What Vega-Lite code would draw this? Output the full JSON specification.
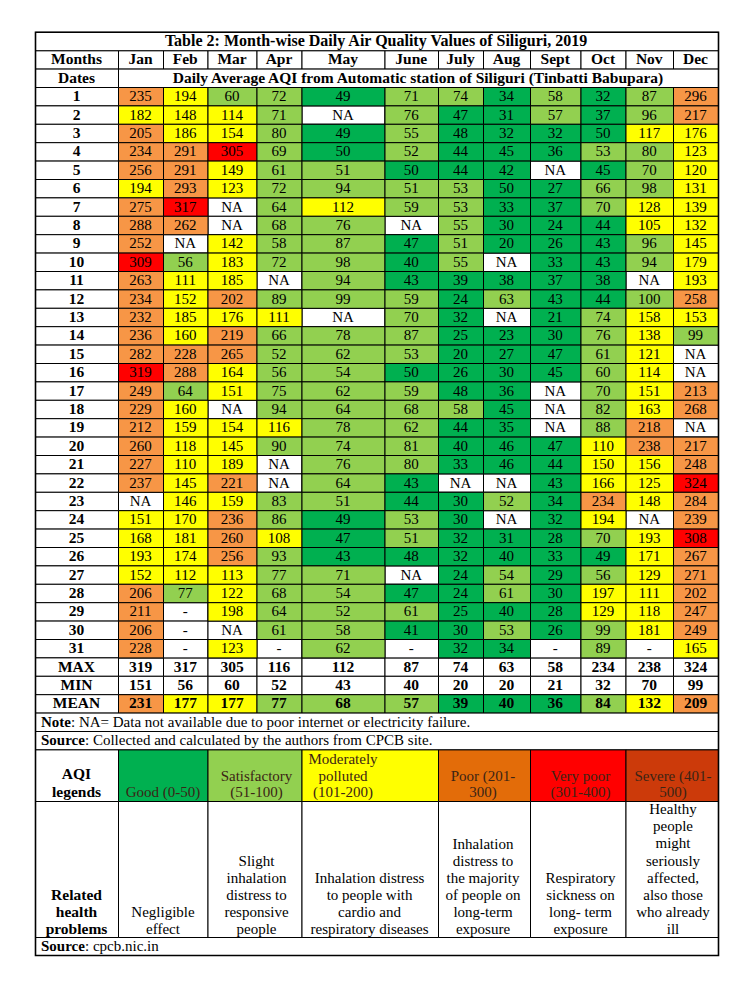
{
"$schema":"https://vega.github.io/schema/vega-lite/v6.json",
"width":750,"height":985,"padding":0,"autosize":{"type":"none"},
"background":"white",
"config":{"view":{"stroke":null}},
"datasets":{
"body":[
{"d":1,"m":1,"v":235},{"d":1,"m":2,"v":194},{"d":1,"m":3,"v":60},{"d":1,"m":4,"v":72},{"d":1,"m":5,"v":49},{"d":1,"m":6,"v":71},{"d":1,"m":7,"v":74},{"d":1,"m":8,"v":34},{"d":1,"m":9,"v":58},{"d":1,"m":10,"v":32},{"d":1,"m":11,"v":87},{"d":1,"m":12,"v":296},
{"d":2,"m":1,"v":182},{"d":2,"m":2,"v":148},{"d":2,"m":3,"v":114},{"d":2,"m":4,"v":71},{"d":2,"m":5,"v":"NA"},{"d":2,"m":6,"v":76},{"d":2,"m":7,"v":47},{"d":2,"m":8,"v":31},{"d":2,"m":9,"v":57},{"d":2,"m":10,"v":37},{"d":2,"m":11,"v":96},{"d":2,"m":12,"v":217},
{"d":3,"m":1,"v":205},{"d":3,"m":2,"v":186},{"d":3,"m":3,"v":154},{"d":3,"m":4,"v":80},{"d":3,"m":5,"v":49},{"d":3,"m":6,"v":55},{"d":3,"m":7,"v":48},{"d":3,"m":8,"v":32},{"d":3,"m":9,"v":32},{"d":3,"m":10,"v":50},{"d":3,"m":11,"v":117},{"d":3,"m":12,"v":176},
{"d":4,"m":1,"v":234},{"d":4,"m":2,"v":291},{"d":4,"m":3,"v":305},{"d":4,"m":4,"v":69},{"d":4,"m":5,"v":50},{"d":4,"m":6,"v":52},{"d":4,"m":7,"v":44},{"d":4,"m":8,"v":45},{"d":4,"m":9,"v":36},{"d":4,"m":10,"v":53},{"d":4,"m":11,"v":80},{"d":4,"m":12,"v":123},
{"d":5,"m":1,"v":256},{"d":5,"m":2,"v":291},{"d":5,"m":3,"v":149},{"d":5,"m":4,"v":61},{"d":5,"m":5,"v":51},{"d":5,"m":6,"v":50},{"d":5,"m":7,"v":44},{"d":5,"m":8,"v":42},{"d":5,"m":9,"v":"NA"},{"d":5,"m":10,"v":45},{"d":5,"m":11,"v":70},{"d":5,"m":12,"v":120},
{"d":6,"m":1,"v":194},{"d":6,"m":2,"v":293},{"d":6,"m":3,"v":123},{"d":6,"m":4,"v":72},{"d":6,"m":5,"v":94},{"d":6,"m":6,"v":51},{"d":6,"m":7,"v":53},{"d":6,"m":8,"v":50},{"d":6,"m":9,"v":27},{"d":6,"m":10,"v":66},{"d":6,"m":11,"v":98},{"d":6,"m":12,"v":131},
{"d":7,"m":1,"v":275},{"d":7,"m":2,"v":317},{"d":7,"m":3,"v":"NA"},{"d":7,"m":4,"v":64},{"d":7,"m":5,"v":112},{"d":7,"m":6,"v":59},{"d":7,"m":7,"v":53},{"d":7,"m":8,"v":33},{"d":7,"m":9,"v":37},{"d":7,"m":10,"v":70},{"d":7,"m":11,"v":128},{"d":7,"m":12,"v":139},
{"d":8,"m":1,"v":288},{"d":8,"m":2,"v":262},{"d":8,"m":3,"v":"NA"},{"d":8,"m":4,"v":68},{"d":8,"m":5,"v":76},{"d":8,"m":6,"v":"NA"},{"d":8,"m":7,"v":55},{"d":8,"m":8,"v":30},{"d":8,"m":9,"v":24},{"d":8,"m":10,"v":44},{"d":8,"m":11,"v":105},{"d":8,"m":12,"v":132},
{"d":9,"m":1,"v":252},{"d":9,"m":2,"v":"NA"},{"d":9,"m":3,"v":142},{"d":9,"m":4,"v":58},{"d":9,"m":5,"v":87},{"d":9,"m":6,"v":47},{"d":9,"m":7,"v":51},{"d":9,"m":8,"v":20},{"d":9,"m":9,"v":26},{"d":9,"m":10,"v":43},{"d":9,"m":11,"v":96},{"d":9,"m":12,"v":145},
{"d":10,"m":1,"v":309},{"d":10,"m":2,"v":56},{"d":10,"m":3,"v":183},{"d":10,"m":4,"v":72},{"d":10,"m":5,"v":98},{"d":10,"m":6,"v":40},{"d":10,"m":7,"v":55},{"d":10,"m":8,"v":"NA"},{"d":10,"m":9,"v":33},{"d":10,"m":10,"v":43},{"d":10,"m":11,"v":94},{"d":10,"m":12,"v":179},
{"d":11,"m":1,"v":263},{"d":11,"m":2,"v":111},{"d":11,"m":3,"v":185},{"d":11,"m":4,"v":"NA"},{"d":11,"m":5,"v":94},{"d":11,"m":6,"v":43},{"d":11,"m":7,"v":39},{"d":11,"m":8,"v":38},{"d":11,"m":9,"v":37},{"d":11,"m":10,"v":38},{"d":11,"m":11,"v":"NA"},{"d":11,"m":12,"v":193},
{"d":12,"m":1,"v":234},{"d":12,"m":2,"v":152},{"d":12,"m":3,"v":202},{"d":12,"m":4,"v":89},{"d":12,"m":5,"v":99},{"d":12,"m":6,"v":59},{"d":12,"m":7,"v":24},{"d":12,"m":8,"v":63},{"d":12,"m":9,"v":43},{"d":12,"m":10,"v":44},{"d":12,"m":11,"v":100},{"d":12,"m":12,"v":258},
{"d":13,"m":1,"v":232},{"d":13,"m":2,"v":185},{"d":13,"m":3,"v":176},{"d":13,"m":4,"v":111},{"d":13,"m":5,"v":"NA"},{"d":13,"m":6,"v":70},{"d":13,"m":7,"v":32},{"d":13,"m":8,"v":"NA"},{"d":13,"m":9,"v":21},{"d":13,"m":10,"v":74},{"d":13,"m":11,"v":158},{"d":13,"m":12,"v":153},
{"d":14,"m":1,"v":236},{"d":14,"m":2,"v":160},{"d":14,"m":3,"v":219},{"d":14,"m":4,"v":66},{"d":14,"m":5,"v":78},{"d":14,"m":6,"v":87},{"d":14,"m":7,"v":25},{"d":14,"m":8,"v":23},{"d":14,"m":9,"v":30},{"d":14,"m":10,"v":76},{"d":14,"m":11,"v":138},{"d":14,"m":12,"v":99},
{"d":15,"m":1,"v":282},{"d":15,"m":2,"v":228},{"d":15,"m":3,"v":265},{"d":15,"m":4,"v":52},{"d":15,"m":5,"v":62},{"d":15,"m":6,"v":53},{"d":15,"m":7,"v":20},{"d":15,"m":8,"v":27},{"d":15,"m":9,"v":47},{"d":15,"m":10,"v":61},{"d":15,"m":11,"v":121},{"d":15,"m":12,"v":"NA"},
{"d":16,"m":1,"v":319},{"d":16,"m":2,"v":288},{"d":16,"m":3,"v":164},{"d":16,"m":4,"v":56},{"d":16,"m":5,"v":54},{"d":16,"m":6,"v":50},{"d":16,"m":7,"v":26},{"d":16,"m":8,"v":30},{"d":16,"m":9,"v":45},{"d":16,"m":10,"v":60},{"d":16,"m":11,"v":114},{"d":16,"m":12,"v":"NA"},
{"d":17,"m":1,"v":249},{"d":17,"m":2,"v":64},{"d":17,"m":3,"v":151},{"d":17,"m":4,"v":75},{"d":17,"m":5,"v":62},{"d":17,"m":6,"v":59},{"d":17,"m":7,"v":48},{"d":17,"m":8,"v":36},{"d":17,"m":9,"v":"NA"},{"d":17,"m":10,"v":70},{"d":17,"m":11,"v":151},{"d":17,"m":12,"v":213},
{"d":18,"m":1,"v":229},{"d":18,"m":2,"v":160},{"d":18,"m":3,"v":"NA"},{"d":18,"m":4,"v":94},{"d":18,"m":5,"v":64},{"d":18,"m":6,"v":68},{"d":18,"m":7,"v":58},{"d":18,"m":8,"v":45},{"d":18,"m":9,"v":"NA"},{"d":18,"m":10,"v":82},{"d":18,"m":11,"v":163},{"d":18,"m":12,"v":268},
{"d":19,"m":1,"v":212},{"d":19,"m":2,"v":159},{"d":19,"m":3,"v":154},{"d":19,"m":4,"v":116},{"d":19,"m":5,"v":78},{"d":19,"m":6,"v":62},{"d":19,"m":7,"v":44},{"d":19,"m":8,"v":35},{"d":19,"m":9,"v":"NA"},{"d":19,"m":10,"v":88},{"d":19,"m":11,"v":218},{"d":19,"m":12,"v":"NA"},
{"d":20,"m":1,"v":260},{"d":20,"m":2,"v":118},{"d":20,"m":3,"v":145},{"d":20,"m":4,"v":90},{"d":20,"m":5,"v":74},{"d":20,"m":6,"v":81},{"d":20,"m":7,"v":40},{"d":20,"m":8,"v":46},{"d":20,"m":9,"v":47},{"d":20,"m":10,"v":110},{"d":20,"m":11,"v":238},{"d":20,"m":12,"v":217},
{"d":21,"m":1,"v":227},{"d":21,"m":2,"v":110},{"d":21,"m":3,"v":189},{"d":21,"m":4,"v":"NA"},{"d":21,"m":5,"v":76},{"d":21,"m":6,"v":80},{"d":21,"m":7,"v":33},{"d":21,"m":8,"v":46},{"d":21,"m":9,"v":44},{"d":21,"m":10,"v":150},{"d":21,"m":11,"v":156},{"d":21,"m":12,"v":248},
{"d":22,"m":1,"v":237},{"d":22,"m":2,"v":145},{"d":22,"m":3,"v":221},{"d":22,"m":4,"v":"NA"},{"d":22,"m":5,"v":64},{"d":22,"m":6,"v":43},{"d":22,"m":7,"v":"NA"},{"d":22,"m":8,"v":"NA"},{"d":22,"m":9,"v":43},{"d":22,"m":10,"v":166},{"d":22,"m":11,"v":125},{"d":22,"m":12,"v":324},
{"d":23,"m":1,"v":"NA"},{"d":23,"m":2,"v":146},{"d":23,"m":3,"v":159},{"d":23,"m":4,"v":83},{"d":23,"m":5,"v":51},{"d":23,"m":6,"v":44},{"d":23,"m":7,"v":30},{"d":23,"m":8,"v":52},{"d":23,"m":9,"v":34},{"d":23,"m":10,"v":234},{"d":23,"m":11,"v":148},{"d":23,"m":12,"v":284},
{"d":24,"m":1,"v":151},{"d":24,"m":2,"v":170},{"d":24,"m":3,"v":236},{"d":24,"m":4,"v":86},{"d":24,"m":5,"v":49},{"d":24,"m":6,"v":53},{"d":24,"m":7,"v":30},{"d":24,"m":8,"v":"NA"},{"d":24,"m":9,"v":32},{"d":24,"m":10,"v":194},{"d":24,"m":11,"v":"NA"},{"d":24,"m":12,"v":239},
{"d":25,"m":1,"v":168},{"d":25,"m":2,"v":181},{"d":25,"m":3,"v":260},{"d":25,"m":4,"v":108},{"d":25,"m":5,"v":47},{"d":25,"m":6,"v":51},{"d":25,"m":7,"v":32},{"d":25,"m":8,"v":31},{"d":25,"m":9,"v":28},{"d":25,"m":10,"v":70},{"d":25,"m":11,"v":193},{"d":25,"m":12,"v":308},
{"d":26,"m":1,"v":193},{"d":26,"m":2,"v":174},{"d":26,"m":3,"v":256},{"d":26,"m":4,"v":93},{"d":26,"m":5,"v":43},{"d":26,"m":6,"v":48},{"d":26,"m":7,"v":32},{"d":26,"m":8,"v":40},{"d":26,"m":9,"v":33},{"d":26,"m":10,"v":49},{"d":26,"m":11,"v":171},{"d":26,"m":12,"v":267},
{"d":27,"m":1,"v":152},{"d":27,"m":2,"v":112},{"d":27,"m":3,"v":113},{"d":27,"m":4,"v":77},{"d":27,"m":5,"v":71},{"d":27,"m":6,"v":"NA"},{"d":27,"m":7,"v":24},{"d":27,"m":8,"v":54},{"d":27,"m":9,"v":29},{"d":27,"m":10,"v":56},{"d":27,"m":11,"v":129},{"d":27,"m":12,"v":271},
{"d":28,"m":1,"v":206},{"d":28,"m":2,"v":77},{"d":28,"m":3,"v":122},{"d":28,"m":4,"v":68},{"d":28,"m":5,"v":54},{"d":28,"m":6,"v":47},{"d":28,"m":7,"v":24},{"d":28,"m":8,"v":61},{"d":28,"m":9,"v":30},{"d":28,"m":10,"v":197},{"d":28,"m":11,"v":111},{"d":28,"m":12,"v":202},
{"d":29,"m":1,"v":211},{"d":29,"m":2,"v":"-"},{"d":29,"m":3,"v":198},{"d":29,"m":4,"v":64},{"d":29,"m":5,"v":52},{"d":29,"m":6,"v":61},{"d":29,"m":7,"v":25},{"d":29,"m":8,"v":40},{"d":29,"m":9,"v":28},{"d":29,"m":10,"v":129},{"d":29,"m":11,"v":118},{"d":29,"m":12,"v":247},
{"d":30,"m":1,"v":206},{"d":30,"m":2,"v":"-"},{"d":30,"m":3,"v":"NA"},{"d":30,"m":4,"v":61},{"d":30,"m":5,"v":58},{"d":30,"m":6,"v":41},{"d":30,"m":7,"v":30},{"d":30,"m":8,"v":53},{"d":30,"m":9,"v":26},{"d":30,"m":10,"v":99},{"d":30,"m":11,"v":181},{"d":30,"m":12,"v":249},
{"d":31,"m":1,"v":228},{"d":31,"m":2,"v":"-"},{"d":31,"m":3,"v":123},{"d":31,"m":4,"v":"-"},{"d":31,"m":5,"v":62},{"d":31,"m":6,"v":"-"},{"d":31,"m":7,"v":32},{"d":31,"m":8,"v":34},{"d":31,"m":9,"v":"-"},{"d":31,"m":10,"v":89},{"d":31,"m":11,"v":"-"},{"d":31,"m":12,"v":165}
],
"stats":[
{"stat":"MAX","r":32,"m":1,"v":319},{"stat":"MAX","r":32,"m":2,"v":317},{"stat":"MAX","r":32,"m":3,"v":305},{"stat":"MAX","r":32,"m":4,"v":116},{"stat":"MAX","r":32,"m":5,"v":112},{"stat":"MAX","r":32,"m":6,"v":87},{"stat":"MAX","r":32,"m":7,"v":74},{"stat":"MAX","r":32,"m":8,"v":63},{"stat":"MAX","r":32,"m":9,"v":58},{"stat":"MAX","r":32,"m":10,"v":234},{"stat":"MAX","r":32,"m":11,"v":238},{"stat":"MAX","r":32,"m":12,"v":324},
{"stat":"MIN","r":33,"m":1,"v":151},{"stat":"MIN","r":33,"m":2,"v":56},{"stat":"MIN","r":33,"m":3,"v":60},{"stat":"MIN","r":33,"m":4,"v":52},{"stat":"MIN","r":33,"m":5,"v":43},{"stat":"MIN","r":33,"m":6,"v":40},{"stat":"MIN","r":33,"m":7,"v":20},{"stat":"MIN","r":33,"m":8,"v":20},{"stat":"MIN","r":33,"m":9,"v":21},{"stat":"MIN","r":33,"m":10,"v":32},{"stat":"MIN","r":33,"m":11,"v":70},{"stat":"MIN","r":33,"m":12,"v":99},
{"stat":"MEAN","r":34,"m":1,"v":231},{"stat":"MEAN","r":34,"m":2,"v":177},{"stat":"MEAN","r":34,"m":3,"v":177},{"stat":"MEAN","r":34,"m":4,"v":77},{"stat":"MEAN","r":34,"m":5,"v":68},{"stat":"MEAN","r":34,"m":6,"v":57},{"stat":"MEAN","r":34,"m":7,"v":39},{"stat":"MEAN","r":34,"m":8,"v":40},{"stat":"MEAN","r":34,"m":9,"v":36},{"stat":"MEAN","r":34,"m":10,"v":84},{"stat":"MEAN","r":34,"m":11,"v":132},{"stat":"MEAN","r":34,"m":12,"v":209}
],
"hdr":[
{"r":-1,"c":0,"t":"Months"},{"r":-1,"c":1,"t":"Jan"},{"r":-1,"c":2,"t":"Feb"},{"r":-1,"c":3,"t":"Mar"},{"r":-1,"c":4,"t":"Apr"},{"r":-1,"c":5,"t":"May"},{"r":-1,"c":6,"t":"June"},{"r":-1,"c":7,"t":"July"},{"r":-1,"c":8,"t":"Aug"},{"r":-1,"c":9,"t":"Sept"},{"r":-1,"c":10,"t":"Oct"},{"r":-1,"c":11,"t":"Nov"},{"r":-1,"c":12,"t":"Dec"},
{"r":0,"c":0,"t":"Dates"},
{"r":1,"c":0,"t":"1"},{"r":2,"c":0,"t":"2"},{"r":3,"c":0,"t":"3"},{"r":4,"c":0,"t":"4"},{"r":5,"c":0,"t":"5"},{"r":6,"c":0,"t":"6"},{"r":7,"c":0,"t":"7"},{"r":8,"c":0,"t":"8"},{"r":9,"c":0,"t":"9"},{"r":10,"c":0,"t":"10"},
{"r":11,"c":0,"t":"11"},{"r":12,"c":0,"t":"12"},{"r":13,"c":0,"t":"13"},{"r":14,"c":0,"t":"14"},{"r":15,"c":0,"t":"15"},{"r":16,"c":0,"t":"16"},{"r":17,"c":0,"t":"17"},{"r":18,"c":0,"t":"18"},{"r":19,"c":0,"t":"19"},{"r":20,"c":0,"t":"20"},
{"r":21,"c":0,"t":"21"},{"r":22,"c":0,"t":"22"},{"r":23,"c":0,"t":"23"},{"r":24,"c":0,"t":"24"},{"r":25,"c":0,"t":"25"},{"r":26,"c":0,"t":"26"},{"r":27,"c":0,"t":"27"},{"r":28,"c":0,"t":"28"},{"r":29,"c":0,"t":"29"},{"r":30,"c":0,"t":"30"},{"r":31,"c":0,"t":"31"},
{"r":32,"c":0,"t":"MAX"},{"r":33,"c":0,"t":"MIN"},{"r":34,"c":0,"t":"MEAN"}
],
"title":[{"r":-2,"c":0,"t":"Table 2: Month-wise Daily Air Quality Values of Siliguri, 2019"}],
"span12":[{"r":0,"c":1,"t":"Daily Average AQI from Automatic station of Siliguri (Tinbatti Babupara)"}],
"notes":[
{"r":35,"c":0,"lab":"Note","rest":": NA= Data not available due to poor internet or electricity failure."},
{"r":36,"c":0,"lab":"Source","rest":": Collected and calculated by the authors from CPCB site."},
{"r":39,"c":0,"lab":"Source","rest":": cpcb.nic.in"}
],
"legend":[
{"r":37,"c":1,"cat":"Good","t":["Good (0-50)"]},
{"r":37,"c":3,"cat":"Satisfactory","t":["Satisfactory","(51-100)"]},
{"r":37,"c":5,"cat":"Moderately polluted","t":["Moderately","polluted","(101-200)"]},
{"r":37,"c":7,"cat":"Poor","t":["Poor (201-","300)"]},
{"r":37,"c":9,"cat":"Very poor","t":["Very poor","(301-400)"]},
{"r":37,"c":11,"cat":"Severe","t":["Severe (401-","500)"]}
],
"health":[
{"r":38,"c":1,"cat":"Good","t":["Negligible","effect"]},
{"r":38,"c":3,"cat":"Satisfactory","t":["Slight","inhalation","distress to","responsive","people"]},
{"r":38,"c":5,"cat":"Moderately polluted","t":["Inhalation distress","to people with","cardio and","respiratory diseases"]},
{"r":38,"c":7,"cat":"Poor","t":["Inhalation","distress to","the majority","of people on","long-term","exposure"]},
{"r":38,"c":9,"cat":"Very poor","t":["Respiratory","sickness on","long- term","exposure"]},
{"r":38,"c":11,"cat":"Severe","t":["Healthy","people","might","seriously","affected,","also those","who already","ill"]}
],
"lab2":[{"r":37,"c":0,"t":["AQI","legends"]},{"r":38,"c":0,"t":["Related","health","problems"]}],
"frame":[{"r":-2,"c":0}]
},
"layer":[
{"data":{"name":"hdr"},"mark":{"type":"rect","fill":"white","stroke":"black","strokeWidth":1,"binSpacing":0},
 "encoding":{"x":{"field":"c","type":"quantitative","bin":{"step":1,"extent":[0,13],"nice":false},"scale":{"domain":[0,1,2,3,4,5,6,7,8,9,10,11,12,13],"range":[35,118,163,207.5,256.5,301.5,384.5,438,483,530,580.5,625.5,673,718],"zero":false,"nice":false},"axis":null},
 "y":{"field":"r","type":"quantitative","bin":{"step":1,"extent":[-2,40],"nice":false},"scale":{"domain":[-2,37,38,39,40],"range":[31.8,749.4,801,937,955],"zero":false,"nice":false},"axis":null}}},
{"data":{"name":"stats","format":{"parse":null}},"mark":{"type":"rect","fill":"white","stroke":"black","strokeWidth":1,"binSpacing":0},
 "encoding":{"x":{"field":"m","type":"quantitative","bin":{"step":1,"extent":[0,13],"nice":false},"scale":{"domain":[0,1,2,3,4,5,6,7,8,9,10,11,12,13],"range":[35,118,163,207.5,256.5,301.5,384.5,438,483,530,580.5,625.5,673,718],"zero":false,"nice":false},"axis":null},
 "y":{"field":"r","type":"quantitative","bin":{"step":1,"extent":[-2,40],"nice":false},"scale":{"domain":[-2,37,38,39,40],"range":[31.8,749.4,801,937,955],"zero":false,"nice":false},"axis":null}}},
{"data":{"name":"stats","format":{"parse":null}},"transform":[{"filter":"datum.stat === 'MEAN'"}],
 "mark":{"type":"rect","stroke":"black","strokeWidth":1,"binSpacing":0},
 "encoding":{"x":{"field":"m","type":"quantitative","bin":{"step":1,"extent":[0,13],"nice":false},"scale":{"domain":[0,1,2,3,4,5,6,7,8,9,10,11,12,13],"range":[35,118,163,207.5,256.5,301.5,384.5,438,483,530,580.5,625.5,673,718],"zero":false,"nice":false},"axis":null},
 "y":{"field":"r","type":"quantitative","bin":{"step":1,"extent":[-2,40],"nice":false},"scale":{"domain":[-2,37,38,39,40],"range":[31.8,749.4,801,937,955],"zero":false,"nice":false},"axis":null},
 "fill":{"field":"v","type":"quantitative","scale":{"type":"threshold","domain":[50.5,100.5,200.5,300.5,400.5],"range":["#00B050","#92D050","#FFFF00","#F79646","#FF0000","#C00000"]},"legend":null}}},
{"data":{"name":"body","format":{"parse":null}},
 "mark":{"type":"rect","fill":"white","stroke":"black","strokeWidth":1,"binSpacing":0},
 "encoding":{"x":{"field":"m","type":"quantitative","bin":{"step":1,"extent":[0,13],"nice":false},"scale":{"domain":[0,1,2,3,4,5,6,7,8,9,10,11,12,13],"range":[35,118,163,207.5,256.5,301.5,384.5,438,483,530,580.5,625.5,673,718],"zero":false,"nice":false},"axis":null},
 "y":{"field":"d","type":"quantitative","bin":{"step":1,"extent":[-2,40],"nice":false},"scale":{"domain":[-2,37,38,39,40],"range":[31.8,749.4,801,937,955],"zero":false,"nice":false},"axis":null}}},
{"data":{"name":"body","format":{"parse":null}},"transform":[{"filter":"isNumber(datum.v)"}],
 "mark":{"type":"rect","stroke":"black","strokeWidth":1,"binSpacing":0},
 "encoding":{"x":{"field":"m","type":"quantitative","bin":{"step":1,"extent":[0,13],"nice":false},"scale":{"domain":[0,1,2,3,4,5,6,7,8,9,10,11,12,13],"range":[35,118,163,207.5,256.5,301.5,384.5,438,483,530,580.5,625.5,673,718],"zero":false,"nice":false},"axis":null},
 "y":{"field":"d","type":"quantitative","bin":{"step":1,"extent":[-2,40],"nice":false},"scale":{"domain":[-2,37,38,39,40],"range":[31.8,749.4,801,937,955],"zero":false,"nice":false},"axis":null},
 "fill":{"field":"v","type":"quantitative","scale":{"type":"threshold","domain":[50.5,100.5,200.5,300.5,400.5],"range":["#00B050","#92D050","#FFFF00","#F79646","#FF0000","#C00000"]},"legend":null}}},
{"data":{"name":"title"},"mark":{"type":"rect","fill":"white","stroke":"black","strokeWidth":1,"binSpacing":0},
 "encoding":{"x":{"field":"c","type":"quantitative","bin":{"step":13,"extent":[0,13],"nice":false},"scale":{"domain":[0,1,2,3,4,5,6,7,8,9,10,11,12,13],"range":[35,118,163,207.5,256.5,301.5,384.5,438,483,530,580.5,625.5,673,718],"zero":false,"nice":false},"axis":null},
 "y":{"field":"r","type":"quantitative","bin":{"step":1,"extent":[-2,40],"nice":false},"scale":{"domain":[-2,37,38,39,40],"range":[31.8,749.4,801,937,955],"zero":false,"nice":false},"axis":null}}},
{"data":{"name":"notes"},"mark":{"type":"rect","fill":"white","stroke":"black","strokeWidth":1,"binSpacing":0},
 "encoding":{"x":{"field":"c","type":"quantitative","bin":{"step":13,"extent":[0,13],"nice":false},"scale":{"domain":[0,1,2,3,4,5,6,7,8,9,10,11,12,13],"range":[35,118,163,207.5,256.5,301.5,384.5,438,483,530,580.5,625.5,673,718],"zero":false,"nice":false},"axis":null},
 "y":{"field":"r","type":"quantitative","bin":{"step":1,"extent":[-2,40],"nice":false},"scale":{"domain":[-2,37,38,39,40],"range":[31.8,749.4,801,937,955],"zero":false,"nice":false},"axis":null}}},
{"data":{"name":"span12"},"mark":{"type":"rect","fill":"white","stroke":"black","strokeWidth":1,"binSpacing":0},
 "encoding":{"x":{"field":"c","type":"quantitative","bin":{"step":12,"extent":[1,13],"nice":false},"scale":{"domain":[0,1,2,3,4,5,6,7,8,9,10,11,12,13],"range":[35,118,163,207.5,256.5,301.5,384.5,438,483,530,580.5,625.5,673,718],"zero":false,"nice":false},"axis":null},
 "y":{"field":"r","type":"quantitative","bin":{"step":1,"extent":[-2,40],"nice":false},"scale":{"domain":[-2,37,38,39,40],"range":[31.8,749.4,801,937,955],"zero":false,"nice":false},"axis":null}}},
{"data":{"name":"legend"},"mark":{"type":"rect","stroke":"black","strokeWidth":1,"binSpacing":0},
 "encoding":{"x":{"field":"c","type":"quantitative","bin":{"step":2,"extent":[1,13],"nice":false},"scale":{"domain":[0,1,2,3,4,5,6,7,8,9,10,11,12,13],"range":[35,118,163,207.5,256.5,301.5,384.5,438,483,530,580.5,625.5,673,718],"zero":false,"nice":false},"axis":null},
 "y":{"field":"r","type":"quantitative","bin":{"step":1,"extent":[-2,40],"nice":false},"scale":{"domain":[-2,37,38,39,40],"range":[31.8,749.4,801,937,955],"zero":false,"nice":false},"axis":null},
 "color":{"field":"cat","type":"nominal","scale":{"domain":["Good","Satisfactory","Moderately polluted","Poor","Very poor","Severe"],"range":["#00B050","#92D050","#FFFF00","#E36C09","#FF0000","#CC3A0A"]},"legend":null}}},
{"data":{"name":"health"},"mark":{"type":"rect","fill":"white","stroke":"black","strokeWidth":1,"binSpacing":0},
 "encoding":{"x":{"field":"c","type":"quantitative","bin":{"step":2,"extent":[1,13],"nice":false},"scale":{"domain":[0,1,2,3,4,5,6,7,8,9,10,11,12,13],"range":[35,118,163,207.5,256.5,301.5,384.5,438,483,530,580.5,625.5,673,718],"zero":false,"nice":false},"axis":null},
 "y":{"field":"r","type":"quantitative","bin":{"step":1,"extent":[-2,40],"nice":false},"scale":{"domain":[-2,37,38,39,40],"range":[31.8,749.4,801,937,955],"zero":false,"nice":false},"axis":null}}},
{"data":{"name":"lab2"},"mark":{"type":"rect","fill":"white","stroke":"black","strokeWidth":1,"binSpacing":0},
 "encoding":{"x":{"field":"c","type":"quantitative","bin":{"step":1,"extent":[0,13],"nice":false},"scale":{"domain":[0,1,2,3,4,5,6,7,8,9,10,11,12,13],"range":[35,118,163,207.5,256.5,301.5,384.5,438,483,530,580.5,625.5,673,718],"zero":false,"nice":false},"axis":null},
 "y":{"field":"r","type":"quantitative","bin":{"step":1,"extent":[-2,40],"nice":false},"scale":{"domain":[-2,37,38,39,40],"range":[31.8,749.4,801,937,955],"zero":false,"nice":false},"axis":null}}},
{"data":{"name":"hdr"},"mark":{"type":"text","font":"Liberation Serif","fontSize":15.5,"fontWeight":"bold","align":"center","baseline":"middle","fill":"black"},
 "encoding":{"x":{"field":"c","type":"quantitative","bin":{"step":1,"extent":[0,13],"nice":false},"scale":{"domain":[0,1,2,3,4,5,6,7,8,9,10,11,12,13],"range":[35,118,163,207.5,256.5,301.5,384.5,438,483,530,580.5,625.5,673,718],"zero":false,"nice":false},"axis":null},
 "y":{"field":"r","type":"quantitative","bin":{"step":1,"extent":[-2,40],"nice":false},"scale":{"domain":[-2,37,38,39,40],"range":[31.8,749.4,801,937,955],"zero":false,"nice":false},"axis":null},
 "text":{"field":"t","type":"nominal"}}},
{"data":{"name":"stats","format":{"parse":null}},
 "mark":{"type":"text","font":"Liberation Serif","fontSize":15.5,"fontWeight":"bold","align":"center","baseline":"middle","fill":"black"},
 "encoding":{"x":{"field":"m","type":"quantitative","bin":{"step":1,"extent":[0,13],"nice":false},"scale":{"domain":[0,1,2,3,4,5,6,7,8,9,10,11,12,13],"range":[35,118,163,207.5,256.5,301.5,384.5,438,483,530,580.5,625.5,673,718],"zero":false,"nice":false},"axis":null},
 "y":{"field":"r","type":"quantitative","bin":{"step":1,"extent":[-2,40],"nice":false},"scale":{"domain":[-2,37,38,39,40],"range":[31.8,749.4,801,937,955],"zero":false,"nice":false},"axis":null},
 "text":{"field":"v","type":"nominal"}}},
{"data":{"name":"body","format":{"parse":null}},
 "mark":{"type":"text","font":"Liberation Serif","fontSize":15,"align":"center","baseline":"middle","fill":"black"},
 "encoding":{"x":{"field":"m","type":"quantitative","bin":{"step":1,"extent":[0,13],"nice":false},"scale":{"domain":[0,1,2,3,4,5,6,7,8,9,10,11,12,13],"range":[35,118,163,207.5,256.5,301.5,384.5,438,483,530,580.5,625.5,673,718],"zero":false,"nice":false},"axis":null},
 "y":{"field":"d","type":"quantitative","bin":{"step":1,"extent":[-2,40],"nice":false},"scale":{"domain":[-2,37,38,39,40],"range":[31.8,749.4,801,937,955],"zero":false,"nice":false},"axis":null},
 "text":{"field":"v","type":"nominal"}}},
{"data":{"name":"title"},"mark":{"type":"text","font":"Liberation Serif","fontSize":16,"fontWeight":"bold","align":"center","baseline":"middle","fill":"black"},
 "encoding":{"x":{"field":"c","type":"quantitative","bin":{"step":13,"extent":[0,13],"nice":false},"bandPosition":0.4537,"scale":{"domain":[0,1,2,3,4,5,6,7,8,9,10,11,12,13],"range":[35,118,163,207.5,256.5,301.5,384.5,438,483,530,580.5,625.5,673,718],"zero":false,"nice":false},"axis":null},
 "y":{"field":"r","type":"quantitative","bin":{"step":1,"extent":[-2,40],"nice":false},"scale":{"domain":[-2,37,38,39,40],"range":[31.8,749.4,801,937,955],"zero":false,"nice":false},"axis":null},
 "text":{"field":"t","type":"nominal"}}},
{"data":{"name":"span12"},"mark":{"type":"text","font":"Liberation Serif","fontSize":15.5,"fontWeight":"bold","align":"center","baseline":"middle","fill":"black"},
 "encoding":{"x":{"field":"c","type":"quantitative","bin":{"step":12,"extent":[1,13],"nice":false},"bandPosition":0.4688,"scale":{"domain":[0,1,2,3,4,5,6,7,8,9,10,11,12,13],"range":[35,118,163,207.5,256.5,301.5,384.5,438,483,530,580.5,625.5,673,718],"zero":false,"nice":false},"axis":null},
 "y":{"field":"r","type":"quantitative","bin":{"step":1,"extent":[-2,40],"nice":false},"scale":{"domain":[-2,37,38,39,40],"range":[31.8,749.4,801,937,955],"zero":false,"nice":false},"axis":null},
 "text":{"field":"t","type":"nominal"}}},
{"data":{"name":"notes"},"mark":{"type":"text","font":"Liberation Serif","fontSize":15,"fontWeight":"bold","align":"left","baseline":"middle","dx":6,"fill":"black"},
 "encoding":{"x":{"field":"c","type":"quantitative","bin":{"step":13,"extent":[0,13],"nice":false},"bandPosition":0,"scale":{"domain":[0,1,2,3,4,5,6,7,8,9,10,11,12,13],"range":[35,118,163,207.5,256.5,301.5,384.5,438,483,530,580.5,625.5,673,718],"zero":false,"nice":false},"axis":null},
 "y":{"field":"r","type":"quantitative","bin":{"step":1,"extent":[-2,40],"nice":false},"scale":{"domain":[-2,37,38,39,40],"range":[31.8,749.4,801,937,955],"zero":false,"nice":false},"axis":null},
 "text":{"field":"lab","type":"nominal"}}},
{"data":{"name":"notes"},"transform":[{"filter":"datum.lab === 'Note'"}],"mark":{"type":"text","font":"Liberation Serif","fontSize":15,"align":"left","baseline":"middle","dx":36,"fill":"black"},
 "encoding":{"x":{"field":"c","type":"quantitative","bin":{"step":13,"extent":[0,13],"nice":false},"bandPosition":0,"scale":{"domain":[0,1,2,3,4,5,6,7,8,9,10,11,12,13],"range":[35,118,163,207.5,256.5,301.5,384.5,438,483,530,580.5,625.5,673,718],"zero":false,"nice":false},"axis":null},
 "y":{"field":"r","type":"quantitative","bin":{"step":1,"extent":[-2,40],"nice":false},"scale":{"domain":[-2,37,38,39,40],"range":[31.8,749.4,801,937,955],"zero":false,"nice":false},"axis":null},
 "text":{"field":"rest","type":"nominal"}}},
{"data":{"name":"notes"},"transform":[{"filter":"datum.lab === 'Source'"}],"mark":{"type":"text","font":"Liberation Serif","fontSize":15,"align":"left","baseline":"middle","dx":50,"fill":"black"},
 "encoding":{"x":{"field":"c","type":"quantitative","bin":{"step":13,"extent":[0,13],"nice":false},"bandPosition":0,"scale":{"domain":[0,1,2,3,4,5,6,7,8,9,10,11,12,13],"range":[35,118,163,207.5,256.5,301.5,384.5,438,483,530,580.5,625.5,673,718],"zero":false,"nice":false},"axis":null},
 "y":{"field":"r","type":"quantitative","bin":{"step":1,"extent":[-2,40],"nice":false},"scale":{"domain":[-2,37,38,39,40],"range":[31.8,749.4,801,937,955],"zero":false,"nice":false},"axis":null},
 "text":{"field":"rest","type":"nominal"}}},
{"data":{"name":"legend"},"transform":[{"filter":"datum.t.length === 1"}],"mark":{"type":"text","font":"Liberation Serif","fontSize":15,"align":"center","baseline":"bottom","lineHeight":16.5,"dy":-1,"fill":"#3b2415"},
 "encoding":{"x":{"field":"c","type":"quantitative","bin":{"step":2,"extent":[1,13],"nice":false},"scale":{"domain":[0,1,2,3,4,5,6,7,8,9,10,11,12,13],"range":[35,118,163,207.5,256.5,301.5,384.5,438,483,530,580.5,625.5,673,718],"zero":false,"nice":false},"axis":null},
 "y":{"field":"r","type":"quantitative","bin":{"step":1,"extent":[-2,40],"nice":false},"bandPosition":1,"scale":{"domain":[-2,37,38,39,40],"range":[31.8,749.4,801,937,955],"zero":false,"nice":false},"axis":null},
 "text":{"field":"t","type":"nominal"}}},
{"data":{"name":"legend"},"transform":[{"filter":"datum.t.length === 2"}],"mark":{"type":"text","font":"Liberation Serif","fontSize":15,"align":"center","baseline":"bottom","lineHeight":16.5,"dy":-17.5,"fill":"#3b2415"},
 "encoding":{"x":{"field":"c","type":"quantitative","bin":{"step":2,"extent":[1,13],"nice":false},"scale":{"domain":[0,1,2,3,4,5,6,7,8,9,10,11,12,13],"range":[35,118,163,207.5,256.5,301.5,384.5,438,483,530,580.5,625.5,673,718],"zero":false,"nice":false},"axis":null},
 "y":{"field":"r","type":"quantitative","bin":{"step":1,"extent":[-2,40],"nice":false},"bandPosition":1,"scale":{"domain":[-2,37,38,39,40],"range":[31.8,749.4,801,937,955],"zero":false,"nice":false},"axis":null},
 "text":{"field":"t","type":"nominal"}}},
{"data":{"name":"legend"},"transform":[{"filter":"datum.cat === 'Moderately polluted'"}],"mark":{"type":"text","font":"Liberation Serif","fontSize":15,"align":"center","baseline":"bottom","lineHeight":16.5,"dy":-34,"fill":"#3b2415"},
 "encoding":{"x":{"field":"c","type":"quantitative","bin":{"step":2,"extent":[1,13],"nice":false},"bandPosition":0.25,"scale":{"domain":[0,1,2,3,4,5,6,7,8,9,10,11,12,13],"range":[35,118,163,207.5,256.5,301.5,384.5,438,483,530,580.5,625.5,673,718],"zero":false,"nice":false},"axis":null},
 "y":{"field":"r","type":"quantitative","bin":{"step":1,"extent":[-2,40],"nice":false},"bandPosition":1,"scale":{"domain":[-2,37,38,39,40],"range":[31.8,749.4,801,937,955],"zero":false,"nice":false},"axis":null},
 "text":{"field":"t","type":"nominal"}}},
{"data":{"name":"health"},"transform":[{"filter":"datum.t.length === 2"}],"mark":{"type":"text","font":"Liberation Serif","fontSize":15,"align":"center","baseline":"bottom","lineHeight":17.1,"dy":-17.1,"fill":"black"},
 "encoding":{"x":{"field":"c","type":"quantitative","bin":{"step":2,"extent":[1,13],"nice":false},"scale":{"domain":[0,1,2,3,4,5,6,7,8,9,10,11,12,13],"range":[35,118,163,207.5,256.5,301.5,384.5,438,483,530,580.5,625.5,673,718],"zero":false,"nice":false},"axis":null},
 "y":{"field":"r","type":"quantitative","bin":{"step":1,"extent":[-2,40],"nice":false},"bandPosition":1,"scale":{"domain":[-2,37,38,39,40],"range":[31.8,749.4,801,937,955],"zero":false,"nice":false},"axis":null},
 "text":{"field":"t","type":"nominal"}}},
{"data":{"name":"health"},"transform":[{"filter":"datum.t.length === 4 && datum.cat !== 'Moderately polluted'"}],"mark":{"type":"text","font":"Liberation Serif","fontSize":15,"align":"center","baseline":"bottom","lineHeight":17.1,"dy":-51.3,"fill":"black"},
 "encoding":{"x":{"field":"c","type":"quantitative","bin":{"step":2,"extent":[1,13],"nice":false},"scale":{"domain":[0,1,2,3,4,5,6,7,8,9,10,11,12,13],"range":[35,118,163,207.5,256.5,301.5,384.5,438,483,530,580.5,625.5,673,718],"zero":false,"nice":false},"axis":null},
 "y":{"field":"r","type":"quantitative","bin":{"step":1,"extent":[-2,40],"nice":false},"bandPosition":1,"scale":{"domain":[-2,37,38,39,40],"range":[31.8,749.4,801,937,955],"zero":false,"nice":false},"axis":null},
 "text":{"field":"t","type":"nominal"}}},
{"data":{"name":"health"},"transform":[{"filter":"datum.t.length === 5"}],"mark":{"type":"text","font":"Liberation Serif","fontSize":15,"align":"center","baseline":"bottom","lineHeight":17.1,"dy":-68.4,"fill":"black"},
 "encoding":{"x":{"field":"c","type":"quantitative","bin":{"step":2,"extent":[1,13],"nice":false},"scale":{"domain":[0,1,2,3,4,5,6,7,8,9,10,11,12,13],"range":[35,118,163,207.5,256.5,301.5,384.5,438,483,530,580.5,625.5,673,718],"zero":false,"nice":false},"axis":null},
 "y":{"field":"r","type":"quantitative","bin":{"step":1,"extent":[-2,40],"nice":false},"bandPosition":1,"scale":{"domain":[-2,37,38,39,40],"range":[31.8,749.4,801,937,955],"zero":false,"nice":false},"axis":null},
 "text":{"field":"t","type":"nominal"}}},
{"data":{"name":"health"},"transform":[{"filter":"datum.t.length === 6"}],"mark":{"type":"text","font":"Liberation Serif","fontSize":15,"align":"center","baseline":"bottom","lineHeight":17.1,"dy":-85.5,"fill":"black"},
 "encoding":{"x":{"field":"c","type":"quantitative","bin":{"step":2,"extent":[1,13],"nice":false},"scale":{"domain":[0,1,2,3,4,5,6,7,8,9,10,11,12,13],"range":[35,118,163,207.5,256.5,301.5,384.5,438,483,530,580.5,625.5,673,718],"zero":false,"nice":false},"axis":null},
 "y":{"field":"r","type":"quantitative","bin":{"step":1,"extent":[-2,40],"nice":false},"bandPosition":1,"scale":{"domain":[-2,37,38,39,40],"range":[31.8,749.4,801,937,955],"zero":false,"nice":false},"axis":null},
 "text":{"field":"t","type":"nominal"}}},
{"data":{"name":"health"},"transform":[{"filter":"datum.t.length === 8"}],"mark":{"type":"text","font":"Liberation Serif","fontSize":15,"align":"center","baseline":"bottom","lineHeight":17.1,"dy":-119.7,"fill":"black"},
 "encoding":{"x":{"field":"c","type":"quantitative","bin":{"step":2,"extent":[1,13],"nice":false},"scale":{"domain":[0,1,2,3,4,5,6,7,8,9,10,11,12,13],"range":[35,118,163,207.5,256.5,301.5,384.5,438,483,530,580.5,625.5,673,718],"zero":false,"nice":false},"axis":null},
 "y":{"field":"r","type":"quantitative","bin":{"step":1,"extent":[-2,40],"nice":false},"bandPosition":1,"scale":{"domain":[-2,37,38,39,40],"range":[31.8,749.4,801,937,955],"zero":false,"nice":false},"axis":null},
 "text":{"field":"t","type":"nominal"}}},
{"data":{"name":"health"},"transform":[{"filter":"datum.cat === 'Moderately polluted'"}],"mark":{"type":"text","font":"Liberation Serif","fontSize":15,"align":"center","baseline":"bottom","lineHeight":17.1,"dy":-51.3,"fill":"black"},
 "encoding":{"x":{"field":"c","type":"quantitative","bin":{"step":2,"extent":[1,13],"nice":false},"bandPosition":0.41,"scale":{"domain":[0,1,2,3,4,5,6,7,8,9,10,11,12,13],"range":[35,118,163,207.5,256.5,301.5,384.5,438,483,530,580.5,625.5,673,718],"zero":false,"nice":false},"axis":null},
 "y":{"field":"r","type":"quantitative","bin":{"step":1,"extent":[-2,40],"nice":false},"bandPosition":1,"scale":{"domain":[-2,37,38,39,40],"range":[31.8,749.4,801,937,955],"zero":false,"nice":false},"axis":null},
 "text":{"field":"t","type":"nominal"}}},
{"data":{"name":"lab2"},"transform":[{"filter":"datum.r === 37"}],"mark":{"type":"text","font":"Liberation Serif","fontSize":15.5,"fontWeight":"bold","align":"center","baseline":"bottom","lineHeight":17.7,"dy":-18.7,"fill":"black"},
 "encoding":{"x":{"field":"c","type":"quantitative","bin":{"step":1,"extent":[0,13],"nice":false},"scale":{"domain":[0,1,2,3,4,5,6,7,8,9,10,11,12,13],"range":[35,118,163,207.5,256.5,301.5,384.5,438,483,530,580.5,625.5,673,718],"zero":false,"nice":false},"axis":null},
 "y":{"field":"r","type":"quantitative","bin":{"step":1,"extent":[-2,40],"nice":false},"bandPosition":1,"scale":{"domain":[-2,37,38,39,40],"range":[31.8,749.4,801,937,955],"zero":false,"nice":false},"axis":null},
 "text":{"field":"t","type":"nominal"}}},
{"data":{"name":"lab2"},"transform":[{"filter":"datum.r === 38"}],"mark":{"type":"text","font":"Liberation Serif","fontSize":15.5,"fontWeight":"bold","align":"center","baseline":"bottom","lineHeight":17.2,"dy":-34.4,"fill":"black"},
 "encoding":{"x":{"field":"c","type":"quantitative","bin":{"step":1,"extent":[0,13],"nice":false},"scale":{"domain":[0,1,2,3,4,5,6,7,8,9,10,11,12,13],"range":[35,118,163,207.5,256.5,301.5,384.5,438,483,530,580.5,625.5,673,718],"zero":false,"nice":false},"axis":null},
 "y":{"field":"r","type":"quantitative","bin":{"step":1,"extent":[-2,40],"nice":false},"bandPosition":1,"scale":{"domain":[-2,37,38,39,40],"range":[31.8,749.4,801,937,955],"zero":false,"nice":false},"axis":null},
 "text":{"field":"t","type":"nominal"}}},
{"data":{"name":"frame"},"mark":{"type":"rect","filled":false,"stroke":"black","strokeWidth":1.6,"binSpacing":0},
 "encoding":{"x":{"field":"c","type":"quantitative","bin":{"step":13,"extent":[0,13],"nice":false},"scale":{"domain":[0,1,2,3,4,5,6,7,8,9,10,11,12,13],"range":[35,118,163,207.5,256.5,301.5,384.5,438,483,530,580.5,625.5,673,718],"zero":false,"nice":false},"axis":null},
 "y":{"field":"r","type":"quantitative","bin":{"step":42,"extent":[-2,40],"nice":false},"scale":{"domain":[-2,37,38,39,40],"range":[31.8,749.4,801,937,955],"zero":false,"nice":false},"axis":null}}}
]
}
